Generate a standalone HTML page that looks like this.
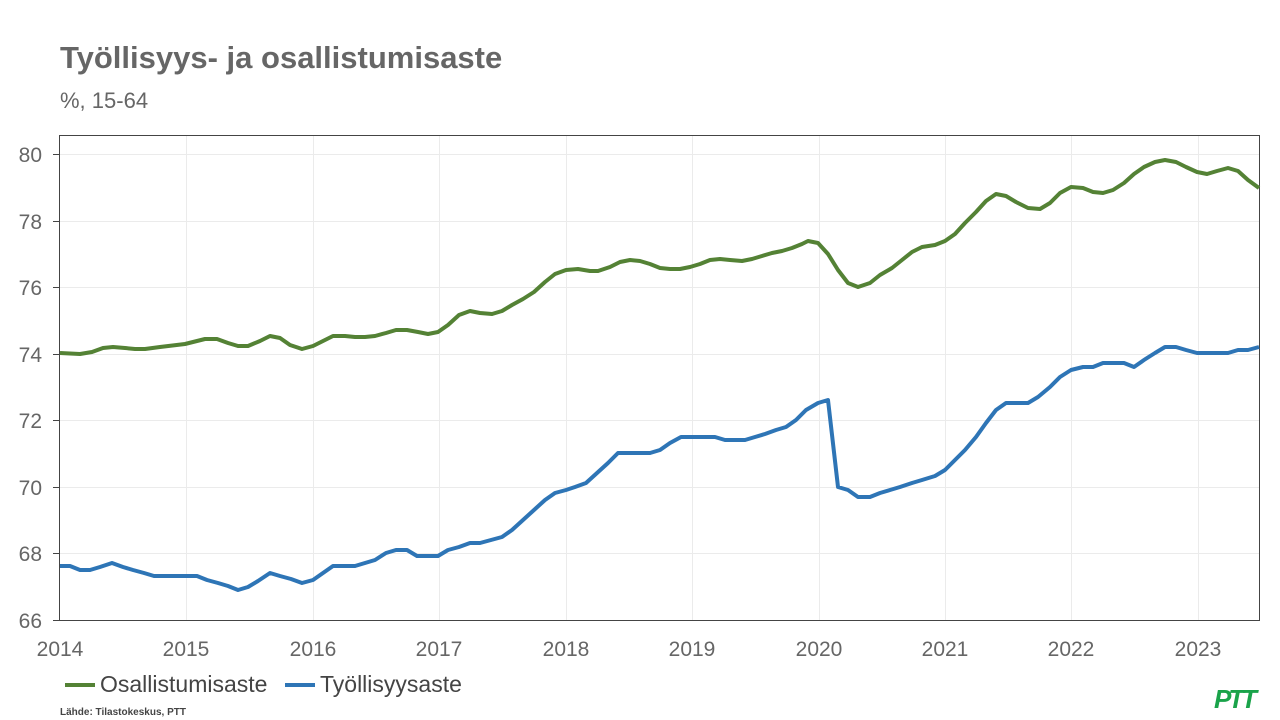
<!DOCTYPE html>
<html><head><meta charset="utf-8"><style>
body{margin:0;background:#fff;}
svg{display:block;font-family:"Liberation Sans",Arial,sans-serif;}
</style></head><body>
<svg width="1280" height="720" viewBox="0 0 1280 720">
<text x="60" y="68" font-size="31" font-weight="bold" fill="#666">Työllisyys- ja osallistumisaste</text>
<text x="60" y="108" font-size="22" fill="#666">%, 15-64</text>
<g stroke="#ebebeb" stroke-width="1">
<line x1="60" x2="1259" y1="154.5" y2="154.5"/><line x1="60" x2="1259" y1="221.5" y2="221.5"/>
<line x1="60" x2="1259" y1="287.5" y2="287.5"/><line x1="60" x2="1259" y1="354.5" y2="354.5"/>
<line x1="60" x2="1259" y1="420.5" y2="420.5"/><line x1="60" x2="1259" y1="487.5" y2="487.5"/>
<line x1="60" x2="1259" y1="553.5" y2="553.5"/>
<line y1="136" y2="620" x1="186.5" x2="186.5"/><line y1="136" y2="620" x1="313.5" x2="313.5"/>
<line y1="136" y2="620" x1="439.5" x2="439.5"/><line y1="136" y2="620" x1="566.5" x2="566.5"/>
<line y1="136" y2="620" x1="692.5" x2="692.5"/><line y1="136" y2="620" x1="819.5" x2="819.5"/>
<line y1="136" y2="620" x1="945.5" x2="945.5"/><line y1="136" y2="620" x1="1071.5" x2="1071.5"/>
<line y1="136" y2="620" x1="1198.5" x2="1198.5"/>
</g>
<rect x="59.5" y="135.5" width="1200" height="485" fill="none" stroke="#444" stroke-width="1"/>
<g stroke="#444"><line x1="53" x2="60" y1="154.5" y2="154.5"/><line x1="53" x2="60" y1="221.5" y2="221.5"/><line x1="53" x2="60" y1="287.5" y2="287.5"/><line x1="53" x2="60" y1="354.5" y2="354.5"/><line x1="53" x2="60" y1="420.5" y2="420.5"/><line x1="53" x2="60" y1="487.5" y2="487.5"/><line x1="53" x2="60" y1="553.5" y2="553.5"/><line x1="53" x2="60" y1="620.5" y2="620.5"/></g>
<g font-size="21" fill="#666" text-anchor="end">
<text x="42" y="162">80</text><text x="42" y="229">78</text><text x="42" y="295">76</text><text x="42" y="362">74</text><text x="42" y="428">72</text><text x="42" y="495">70</text><text x="42" y="561">68</text><text x="42" y="628">66</text>
</g>
<g font-size="21" fill="#666" text-anchor="middle">
<text x="60" y="656">2014</text><text x="186" y="656">2015</text><text x="313" y="656">2016</text><text x="439" y="656">2017</text><text x="566" y="656">2018</text><text x="692" y="656">2019</text><text x="819" y="656">2020</text><text x="945" y="656">2021</text><text x="1071" y="656">2022</text><text x="1198" y="656">2023</text>
</g>
<polyline fill="none" stroke="#548235" stroke-width="4" stroke-linejoin="round" points="60,353 80,354 92,352 103,348 113,347 125,348 135,349 145,349 160,347 185,344 205,339 217,339 228,343 238,346 248,346 260,341 270,336 280,338 290,345 302,349 313,346 323,341 333,336 345,336 355,337 365,337 375,336 386,333 396,330 407,330 418,332 428,334 438,332 448,325 459,315 470,311 480,313 492,314 502,311 512,305 523,299 534,292 545,282 555,274 566,270 578,269 590,271 598,271 610,267 620,262 630,260 640,261 650,264 660,268 670,269 680,269 690,267 700,264 710,260 720,259 730,260 742,261 752,259 762,256 772,253 782,251 792,248 802,244 808,241 818,243 828,254 838,270 848,283 858,287 870,283 880,275 892,268 902,260 912,252 922,247 935,245 945,241 955,234 965,223 976,212 986,201 996,194 1006,196 1016,202 1028,208 1040,209 1050,203 1060,193 1071,187 1083,188 1093,192 1103,193 1113,190 1124,183 1134,174 1144,167 1155,162 1165,160 1176,162 1186,167 1197,172 1207,174 1217,171 1228,168 1238,171 1248,180 1259,188"/>
<polyline fill="none" stroke="#2e75b6" stroke-width="4" stroke-linejoin="round" points="60,566 70,566 80,570 90,570 100,567 112,563 123,567 133,570 144,573 154,576 197,576 207,580 218,583 228,586 238,590 248,587 258,581 270,573 280,576 291,579 302,583 313,580 323,573 333,566 355,566 365,563 375,560 386,553 396,550 407,550 417,556 438,556 448,550 459,547 470,543 480,543 491,540 502,537 512,530 523,520 534,510 545,500 555,493 566,490 575,487 586,483 597,473 608,463 618,453 650,453 660,450 670,443 681,437 715,437 725,440 745,440 755,437 765,434 776,430 786,427 796,420 806,410 818,403 828,400 838,487 848,490 858,497 870,497 880,493 890,490 900,487 912,483 922,480 935,476 945,470 955,460 965,450 976,437 986,423 996,410 1006,403 1028,403 1038,397 1050,387 1060,377 1071,370 1083,367 1093,367 1103,363 1124,363 1134,367 1144,360 1155,353 1165,347 1176,347 1186,350 1197,353 1228,353 1238,350 1248,350 1259,347"/>
<line x1="65" x2="95" y1="685" y2="685" stroke="#548235" stroke-width="4"/>
<text x="100" y="692" font-size="23" fill="#444">Osallistumisaste</text>
<line x1="285" x2="315" y1="685" y2="685" stroke="#2e75b6" stroke-width="4"/>
<text x="320" y="692" font-size="23" fill="#444">Työllisyysaste</text>
<text x="60" y="715" font-size="10" font-weight="bold" fill="#444">Lähde: Tilastokeskus, PTT</text>
<text x="1234" y="708" font-size="26" font-weight="bold" font-style="italic" fill="#1aa34a" text-anchor="middle" letter-spacing="-3">PTT</text>
</svg>
</body></html>
